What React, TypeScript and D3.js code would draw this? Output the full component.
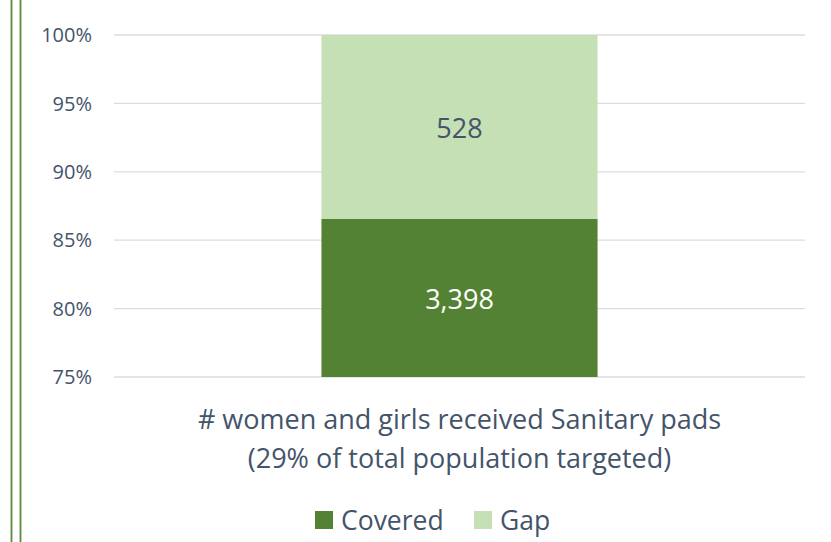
import React from 'react'
import * as d3 from 'd3'

const categories = ['# women and girls received Sanitary pads']
const subtitle = '(29% of total population targeted)'
const seriesNames = ['Covered', 'Gap']
const covered = [3398]
const gap = [528]
const yTicks = [0.75, 0.8, 0.85, 0.9, 0.95, 1]

const colors = ['#548235', '#C5E0B4']
const textColor = '#44546A'
const font = '"Open Sans", sans-serif'

export default function App() {
    const width = 831
    const height = 542

    const xScale = d3.scaleBand()
        .domain(categories)
        .range([114, 805])
        .paddingInner(0.429)
        .paddingOuter(0.429)

    const yScale = d3.scaleLinear()
        .domain([0.75, 1])
        .range([377, 35])

    const rows = categories.map((c, i) => ({ cat: c, Covered: covered[i], Gap: gap[i] }))
    const stacked = d3.stack()
        .keys(seriesNames)
        .offset(d3.stackOffsetExpand)(rows as any)

    const fmt = d3.format(',')
    const pct = d3.format('.0%')

    const legendX = [315, 474]

    return (
        <svg width={width} height={height} style={{ position: 'absolute', left: 0, top: 0, background: '#fff' }}>
            <line x1={11.5} x2={11.5} y1={0} y2={height} stroke="#5B8C3A" strokeWidth={1.8} />
            <line x1={20.5} x2={20.5} y1={0} y2={height} stroke="#5B8C3A" strokeWidth={1.8} />

            {yTicks.map(t => (
                <g key={t}>
                    <line x1={114} x2={805} y1={yScale(t)} y2={yScale(t)} stroke="#D9DEE4" strokeWidth={1.3} />
                    <text x={92} y={yScale(t)} dy="0.36em" textAnchor="end" fontFamily={font} fontSize={20} fill={textColor}>{pct(t)}</text>
                </g>
            ))}

            {stacked.map((s, si) => s.map((d, di) => {
                const cat = categories[di]
                const y0 = yScale(Math.max(0.75, d[0]))
                const y1 = yScale(d[1])
                const val = si === 0 ? covered[di] : gap[di]
                return (
                    <g key={si + '-' + di}>
                        <rect x={xScale(cat)} width={xScale.bandwidth()} y={y1} height={y0 - y1} fill={colors[si]} />
                        <text x={xScale(cat)! + xScale.bandwidth() / 2} y={(y0 + y1) / 2 + 1} dy="0.36em" textAnchor="middle"
                            fontFamily={font} fontSize={27} fill={si === 0 ? '#fff' : textColor}>{fmt(val)}</text>
                    </g>
                )
            }))}

            {categories.map(c => (
                <g key={c}>
                    <text x={xScale(c)! + xScale.bandwidth() / 2} y={429} textAnchor="middle" fontFamily={font} fontSize={27} fill={textColor}>{c}</text>
                    <text x={xScale(c)! + xScale.bandwidth() / 2} y={468} textAnchor="middle" fontFamily={font} fontSize={27} fill={textColor}>{subtitle}</text>
                </g>
            ))}

            {seriesNames.map((n, i) => (
                <g key={n}>
                    <rect x={legendX[i]} y={511} width={18} height={18} fill={colors[i]} />
                    <text x={legendX[i] + 26} y={530} fontFamily={font} fontSize={26.5} fill={textColor}>{n}</text>
                </g>
            ))}
        </svg>
    )
}
